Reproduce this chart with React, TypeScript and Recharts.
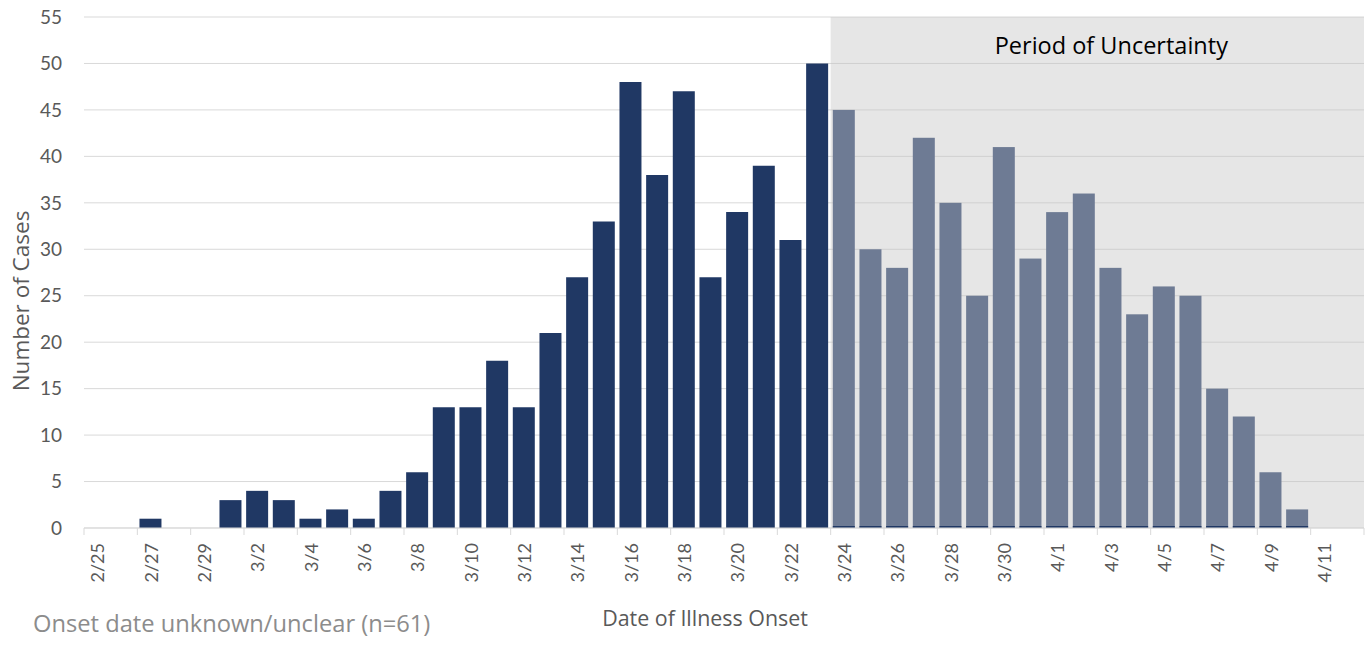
import React from "react";
import {
  BarChart,
  Bar,
  XAxis,
  YAxis,
  CartesianGrid,
  ReferenceArea,
} from "recharts";

// onset dates, 2/25 .. 4/12 (2020)
const DATES = [
  "2/25", "2/26", "2/27", "2/28", "2/29",
  "3/1", "3/2", "3/3", "3/4", "3/5", "3/6", "3/7", "3/8", "3/9", "3/10",
  "3/11", "3/12", "3/13", "3/14", "3/15", "3/16", "3/17", "3/18", "3/19", "3/20",
  "3/21", "3/22", "3/23", "3/24", "3/25", "3/26", "3/27", "3/28", "3/29", "3/30",
  "3/31", "4/1", "4/2", "4/3", "4/4", "4/5", "4/6", "4/7", "4/8", "4/9",
  "4/10", "4/11", "4/12",
];

// cases with onset before the period of uncertainty (2/25 .. 3/23)
const CONFIRMED = [
  0, 0, 1, 0, 0,
  3, 4, 3, 1, 2, 1, 4, 6, 13, 13,
  18, 13, 21, 27, 33, 48, 38, 47, 27, 34,
  39, 31, 50,
];

// cases in the period of uncertainty (3/24 .. 4/12)
const UNCERTAIN = [
  45, 30, 28, 42, 35, 25, 41,
  29, 34, 36, 28, 23, 26, 25, 15, 12, 6,
  2, 0, 0,
];

const Y_TICKS = [0, 5, 10, 15, 20, 25, 30, 35, 40, 45, 50, 55];

const UNCERTAIN_START = DATES[CONFIRMED.length];
const FONT = "Lato, 'Open Sans', sans-serif";
const LABEL_FONT = "'Open Sans', sans-serif";

const data = DATES.map((d, i) => ({
  date: d,
  confirmed: i < CONFIRMED.length ? CONFIRMED[i] : null,
  uncertain: i >= CONFIRMED.length ? UNCERTAIN[i - CONFIRMED.length] : null,
}));

const DateTick = (props: any) => {
  const { x, y, payload } = props;
  const half = payload && payload.offset ? payload.offset : 13.33;
  const isLast = payload.value === DATES[DATES.length - 2];
  return (
    <g>
      <line x1={x - half} x2={x - half} y1={y} y2={y + 7} stroke="#d9d9d9" />
      {isLast && (
        <line x1={x + 3 * half} x2={x + 3 * half} y1={y} y2={y + 7} stroke="#d9d9d9" />
      )}
      <text
        x={x}
        y={y + 15}
        transform={`rotate(-90 ${x} ${y + 15})`}
        textAnchor="end"
        dominantBaseline="central"
        fill="#595959"
        fontSize={18}
        fontFamily={FONT}
      >
        {payload.value}
      </text>
    </g>
  );
};

const UncertainBar = (props: any) => {
  const { x, y, width, height, fill } = props;
  if (!height || height <= 0) return null;
  return (
    <g>
      <rect x={x} y={y} width={width} height={height} fill={fill} />
      <rect x={x} y={y + height - 2} width={width} height={2} fill="#203864" />
    </g>
  );
};

const App = () => {
  return (
    <div
      style={{
        position: "absolute",
        left: 0,
        top: 0,
        width: 1369,
        height: 650,
        background: "#fff",
        fontFamily: LABEL_FONT,
      }}
    >
      <BarChart
        width={1369}
        height={650}
        data={data}
        margin={{ top: 17, right: 5, bottom: 0, left: 0 }}
        barCategoryGap="8%"
      >
        <CartesianGrid vertical={false} stroke="#d9d9d9" />
        <ReferenceArea
          x1={UNCERTAIN_START}
          x2={DATES[DATES.length - 1]}
          y1={0}
          y2={55}
          ifOverflow="visible"
          fill="#c4c4c4"
          fillOpacity={0.42}
          stroke="none"
          label={(p: any) => {
            const vb = p.viewBox || {};
            return (
              <text
                x={vb.x + vb.width / 2 + 14}
                y={54}
                textAnchor="middle"
                fill="#000"
                fontSize={23.5}
                fontFamily={LABEL_FONT}
              >
                Period of Uncertainty
              </text>
            );
          }}
        />
        <XAxis
          dataKey="date"
          interval={1}
          height={122}
          tickLine={false}
          tickSize={0}
          tickMargin={0}
          axisLine={{ stroke: "#d9d9d9" }}
          tick={<DateTick />}
        />
        <YAxis
          width={84}
          domain={[0, 55]}
          ticks={Y_TICKS}
          interval={0}
          axisLine={false}
          tickLine={false}
          tickSize={0}
          tickMargin={22}
          tick={{ fill: "#595959", fontSize: 19, fontFamily: FONT }}
        />
        <Bar
          dataKey="confirmed"
          stackId="cases"
          fill="#203864"
          isAnimationActive={false}
        />
        <Bar
          dataKey="uncertain"
          stackId="cases"
          fill="#6e7b94"
          shape={<UncertainBar />}
          isAnimationActive={false}
        />
      </BarChart>
      <div
        style={{
          position: "absolute",
          left: 20,
          top: 301,
          transform: "translate(-50%, -50%) rotate(-90deg)",
          whiteSpace: "nowrap",
          fontSize: 22.5,
          color: "#595959",
        }}
      >
        Number of Cases
      </div>
      <div
        style={{
          position: "absolute",
          left: 705,
          top: 617,
          transform: "translate(-50%, -50%)",
          whiteSpace: "nowrap",
          fontSize: 21.4,
          color: "#595959",
        }}
      >
        Date of Illness Onset
      </div>
      <div
        style={{
          position: "absolute",
          left: 33,
          top: 623,
          transform: "translate(0, -50%)",
          whiteSpace: "nowrap",
          fontSize: 23.7,
          color: "#8c8c8c",
        }}
      >
        Onset date unknown/unclear (n=61)
      </div>
    </div>
  );
};

export default App;
